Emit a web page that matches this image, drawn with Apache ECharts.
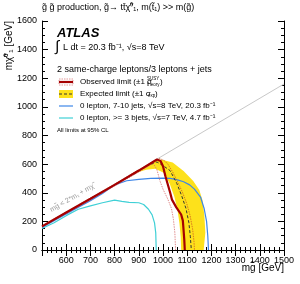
<!DOCTYPE html>
<html><head><meta charset="utf-8">
<script src="https://cdn.jsdelivr.net/npm/echarts@6/dist/echarts.min.js"></script>
<style>html,body{margin:0;padding:0;background:#fff}#c{width:300px;height:284px}</style>
</head><body><div id="c"></div>
<script>
// ---- data (m_gluino, m_neutralino) in GeV ----
var xTicks = [500, 600, 700, 800, 900, 1000, 1100, 1200, 1300, 1400, 1500];
var yTicks = [0, 200, 400, 600, 800, 1000, 1200, 1400, 1600];
var observed = [[500,165],[600,262],[700,358],[800,455],[900,555],[975,632],[990,622],[1000,585],[1010,515],[1022,445],[1030,398],[1037,352],[1055,298],[1075,248],[1082,205],[1085,140],[1088,70],[1090,0]];
var obsMinus = [[500,160],[600,255],[700,350],[800,447],[900,545],[960,605],[975,560],[988,480],[1000,425],[1020,355],[1035,290],[1043,215],[1049,120],[1052,0]];
var obsPlus = [[500,168],[600,266],[700,362],[800,460],[900,560],[985,640],[1005,625],[1020,600],[1040,545],[1060,478],[1080,405],[1098,325],[1112,240],[1122,150],[1128,60],[1130,0]];
var expected = [[880,530],[930,585],[975,615],[1000,590],[1029,555],[1057,466],[1077,380],[1095,290],[1107,190],[1113,93],[1117,0]];
var bandUpper = [[880,535],[930,585],[975,632],[1000,628],[1040,612],[1085,552],[1125,482],[1150,420],[1163,350],[1171,240],[1175,120],[1168,0]];
var bandLower = [[1075,0],[1073,93],[1068,186],[1060,280],[1047,372],[1027,466],[1003,540],[968,568],[930,560],[880,535]];
var zeroLep7_10 = [[500,158],[600,252],[700,345],[750,395],[800,455],[850,484],[900,494],[950,500],[1000,502],[1030,500],[1060,490],[1085,477],[1110,455],[1130,425],[1155,370],[1170,290],[1180,200],[1185,100],[1188,0]];
var zeroLep3b = [[500,150],[550,190],[600,240],[650,285],[700,308],[750,330],[800,348],[830,340],[860,333],[900,330],[920,318],[940,285],[955,245],[965,190],[970,120],[972,0]];
var kinematic = [[500,160],[1500,1160]];

var bandPolygon = bandUpper.concat(bandLower);

var chart = echarts.init(document.getElementById('c'), null, {renderer:'canvas'});
var FONT = 'Liberation Sans, Arial, Helvetica, sans-serif';
var axisCommon = {
  axisLine:{show:true, lineStyle:{color:'#000', width:1}},
  axisTick:{show:true, inside:true, length:6, lineStyle:{color:'#000', width:1}},
  splitLine:{show:false},
};
var option = {
  animation:false,
  backgroundColor:'#fff',
  grid:{left:42, right:16, top:21, bottom:34, containLabel:false},
  xAxis:[
    Object.assign({type:'value', min:500, max:1500, interval:100, position:'bottom',
      minorTick:{show:true, splitNumber:5, length:3, lineStyle:{color:'#000'}},
      axisLabel:{color:'#000', fontFamily:FONT, fontSize:9, margin:6,
        formatter:function(v){return v===500?'':String(v);}}}, axisCommon),
    Object.assign({type:'value', min:500, max:1500, interval:100, position:'top',
      minorTick:{show:true, splitNumber:5, length:3, lineStyle:{color:'#000'}},
      axisLabel:{show:false}}, axisCommon)
  ],
  yAxis:[
    Object.assign({type:'value', min:0, max:1600, interval:200, position:'left',
      minorTick:{show:true, splitNumber:4, length:3, lineStyle:{color:'#000'}},
      axisLabel:{color:'#000', fontFamily:FONT, fontSize:9, margin:5,
        formatter:function(v){return String(v);}}}, axisCommon),
    Object.assign({type:'value', min:0, max:1600, interval:200, position:'right',
      minorTick:{show:true, splitNumber:4, length:3, lineStyle:{color:'#000'}},
      axisLabel:{show:false}}, axisCommon)
  ],
  series:[
    {type:'custom', name:'band', data:[0], z:1, silent:true,
      renderItem:function(params, api){
        var pts = bandPolygon.map(function(p){return api.coord(p);});
        return {type:'polygon', shape:{points:pts}, style:{fill:'#fde11b', stroke:null}};
      }},
    {type:'line', name:'kin', data:kinematic, showSymbol:false, z:2,
      lineStyle:{color:'#c8c8c8', width:1}},
    {type:'line', name:'3b', data:zeroLep3b, showSymbol:false, z:3,
      lineStyle:{color:'#3fd0d6', width:1.2}},
    {type:'line', name:'7-10', data:zeroLep7_10, showSymbol:false, z:3,
      lineStyle:{color:'#3d86e8', width:1.2}},
    {type:'line', name:'expected', data:expected, showSymbol:false, z:4,
      lineStyle:{color:'#333', width:1, type:[3,2]}},
    {type:'line', name:'obsMinus', data:obsMinus, showSymbol:false, z:4,
      lineStyle:{color:'#d87070', width:0.8, type:[1.5,1]}},
    {type:'line', name:'obsPlus', data:obsPlus, showSymbol:false, z:4,
      lineStyle:{color:'#d06020', width:0.8, type:[1.5,1]}},
    {type:'line', name:'observed', data:observed, showSymbol:false, z:5,
      lineStyle:{color:'#a50000', width:2.2}}
  ],
  graphic:[
    {type:'text', left:42, top:3, style:{text:'g\u0303 g\u0303 production, g\u0303\u2192 tt\u0304\u03c7\u0303\u2070\u2081, m(t\u0303\u2081) >> m(g\u0303)', font:'9px '+FONT, fill:'#000'}},
    {type:'text', x:9, y:21, rotation:Math.PI/2, style:{text:'m\u03c7\u0303\u2070\u2081 [GeV]', font:'10px '+FONT, fill:'#000', align:'right', verticalAlign:'middle'}},
    {type:'text', x:284, y:268, style:{text:'m\u0261\u0303 [GeV]', font:'10px '+FONT, fill:'#000', align:'right', verticalAlign:'middle'}},
    {type:'text', x:57, y:33, style:{text:'ATLAS', font:'italic bold 13px '+FONT, fill:'#000', verticalAlign:'middle'}},
    {type:'text', x:55, y:47, style:{text:'\u222b', font:'15px '+FONT, fill:'#000', verticalAlign:'middle'}},
    {type:'text', x:63, y:48, style:{text:'L dt = 20.3 fb\u207b\u00b9, \u221as=8 TeV', font:'9px '+FONT, fill:'#000', verticalAlign:'middle'}},
    {type:'text', x:57, y:70, style:{text:'2 same-charge leptons/3 leptons + jets', font:'9px '+FONT, fill:'#000', verticalAlign:'middle'}},
    {type:'rect', shape:{x:59, y:79, width:14, height:6}, style:{fill:'none', stroke:'#d87070', lineWidth:0.7, lineDash:[1.5,1]}},
    {type:'line', shape:{x1:59, y1:82, x2:73, y2:82}, style:{stroke:'#a50000', lineWidth:2.2}},
    {type:'rect', shape:{x:59, y:90, width:14, height:8}, style:{fill:'#fde11b'}},
    {type:'line', shape:{x1:59, y1:94, x2:73, y2:94}, style:{stroke:'#333', lineWidth:1, lineDash:[3,2]}},
    {type:'line', shape:{x1:59, y1:106, x2:73, y2:106}, style:{stroke:'#3d86e8', lineWidth:1.2}},
    {type:'line', shape:{x1:59, y1:118, x2:73, y2:118}, style:{stroke:'#3fd0d6', lineWidth:1.2}},
    {type:'text', x:80, y:82, style:{text:'Observed limit (\u00b11 \u03c3', font:'8px '+FONT, fill:'#000', verticalAlign:'middle'}},
    {type:'text', x:147, y:78.5, style:{text:'SUSY', font:'4.5px '+FONT, fill:'#000', verticalAlign:'middle'}},
    {type:'text', x:147, y:84.5, style:{text:'theory', font:'4.5px '+FONT, fill:'#000', verticalAlign:'middle'}},
    {type:'text', x:160, y:82, style:{text:')', font:'8px '+FONT, fill:'#000', verticalAlign:'middle'}},
    {type:'text', x:80, y:94, style:{text:'Expected limit (\u00b11 \u03c3', font:'8px '+FONT, fill:'#000', verticalAlign:'middle'}},
    {type:'text', x:148, y:96, style:{text:'exp', font:'4.5px '+FONT, fill:'#000', verticalAlign:'middle'}},
    {type:'text', x:155, y:94, style:{text:')', font:'8px '+FONT, fill:'#000', verticalAlign:'middle'}},
    {type:'text', x:80, y:106, style:{text:'0 lepton, 7-10 jets, \u221as=8 TeV, 20.3 fb\u207b\u00b9', font:'8px '+FONT, fill:'#000', verticalAlign:'middle'}},
    {type:'text', x:80, y:118, style:{text:'0 lepton, >= 3 bjets, \u221as=7 TeV, 4.7 fb\u207b\u00b9', font:'8px '+FONT, fill:'#000', verticalAlign:'middle'}},
    {type:'text', x:57, y:130, style:{text:'All limits at 95% CL', font:'6px '+FONT, fill:'#000', verticalAlign:'middle'}},
    {type:'text', x:72, y:198, rotation:0.52, style:{text:'m\u0261\u0303 < 2*m\u209c + m\u03c7\u0303', font:'7px '+FONT, fill:'#999', align:'center', verticalAlign:'middle'}}
  ]
};
chart.setOption(option);
</script>
</body></html>
